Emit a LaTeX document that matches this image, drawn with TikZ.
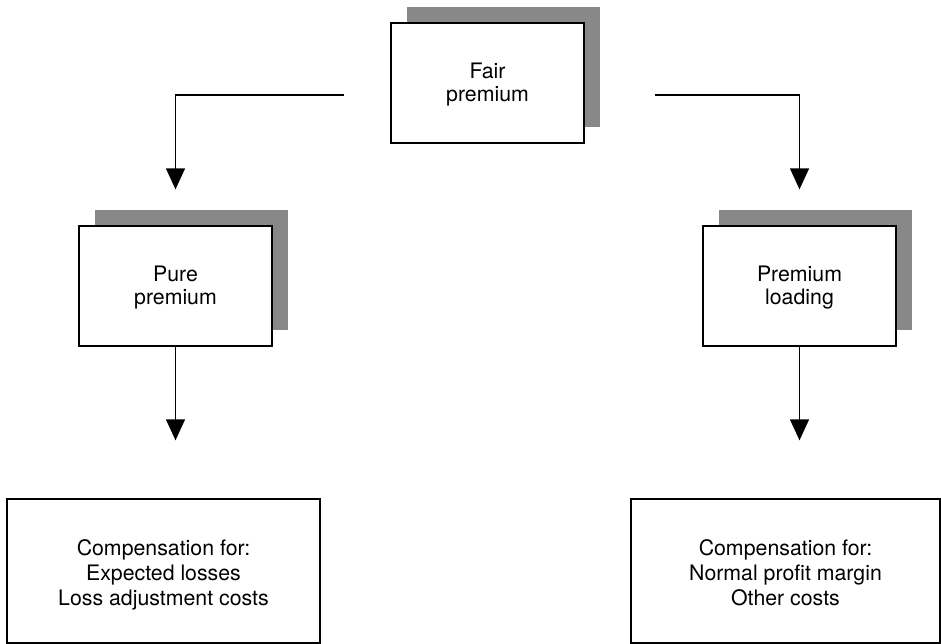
\documentclass[tikz,border=0pt]{standalone}
\usepackage{fontspec}
\setmainfont{TeX Gyre Heros}
\usetikzlibrary{arrows.meta,shadows}
\definecolor{shadowgray}{RGB}{136,136,136}
% lines of box text with fixed heights and depths
\newcommand{\premline}[1]{\rule[-4.5pt]{0pt}{23.5pt}#1}
\newcommand{\costline}[1]{\rule[-4.5pt]{0pt}{24pt}#1}
\newcommand{\costfirst}[1]{\rule[-4.5pt]{0pt}{28pt}#1}
\begin{document}
\begin{tikzpicture}[x=1pt,y=-1pt,
  box/.style={draw=black, fill=white, line width=1.3pt, inner sep=0pt,
    align=center},
  premiumbox/.style={box, minimum width=193pt, minimum height=120pt,
    font=\fontsize{21.3}{23.5}\selectfont,
    drop shadow={shadow xshift=16pt, shadow yshift=16pt,
      fill=shadowgray, opacity=1, draw=none}},
  detailbox/.style={box, minimum height=144pt,
    font=\fontsize{21.3}{24}\selectfont},
  arr/.style={line width=1.3pt, -{Triangle[width=19pt,length=21pt]}}]
\useasboundingbox (0,0) rectangle (941,643);

% premium components
\node[premiumbox] (fair) at (487.5,83) {\premline{Fair}\\\premline{premium}};
\node[premiumbox] (pure) at (175.5,286) {\premline{Pure}\\\premline{premium}};
\node[premiumbox] (load) at (799.5,286) {\premline{Premium}\\\premline{loading}};

% what each component pays for
\node[detailbox, minimum width=313pt] (costL) at (163.5,571)
  {\costfirst{Compensation for:}\\\costline{Expected losses}\\\costline{Loss adjustment costs}};
\node[detailbox, minimum width=309pt] (costR) at (785.5,571)
  {\costfirst{Compensation for:}\\\costline{Normal profit margin}\\\costline{Other costs}};

% branch starts beside the fair premium box
\coordinate (splitL) at (344,95);
\coordinate (splitR) at (655,95);

\draw[arr, shorten >=36pt] (splitL) -| (pure.north);
\draw[arr, shorten >=36pt] (splitR) -| (load.north);
\draw[arr, shorten >=58pt] (pure.south) -- (pure.south |- costL.north);
\draw[arr, shorten >=58pt] (load.south) -- (load.south |- costR.north);
\end{tikzpicture}
\end{document}
